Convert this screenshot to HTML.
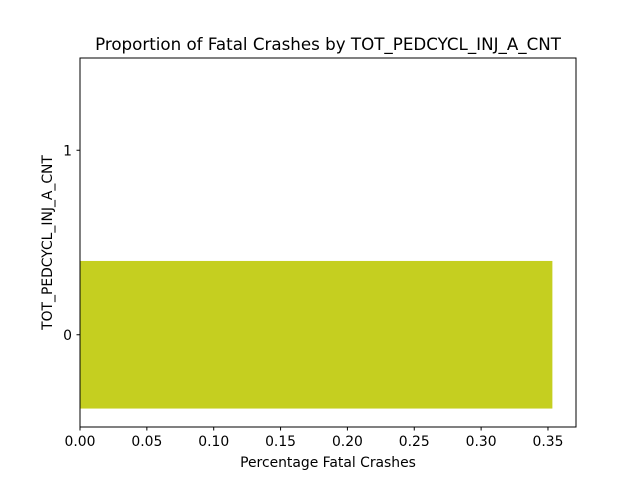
<!DOCTYPE html>
<html><head><meta charset="utf-8"><style>
body{margin:0;background:#fff;}
svg text{font-family:"DejaVu Sans","Liberation Sans",sans-serif;fill:#000;}
</style></head><body>
<svg width="640" height="480" viewBox="0 0 640 480">
<text x="328" y="50" font-size="16.7" text-anchor="middle">Proportion of Fatal Crashes by TOT_PEDCYCL_INJ_A_CNT</text>
<g id="bars"></g>
<rect x="80" y="58" width="496" height="369" fill="none" stroke="#000" stroke-width="1"/>
<g id="xticks"></g><g id="yticks"></g>
<text x="328" y="467" font-size="13.9" text-anchor="middle">Percentage Fatal Crashes</text>
<text transform="translate(52,242.5) rotate(-90)" font-size="13.9" text-anchor="middle">TOT_PEDCYCL_INJ_A_CNT</text>
</svg>
<script>
const categories=["0","1"];
const values=[0.3533,0];
const xTicks=[0,0.05,0.1,0.15,0.2,0.25,0.3,0.35];
const xTickLabels=["0.00","0.05","0.10","0.15","0.20","0.25","0.30","0.35"];
const ns="http://www.w3.org/2000/svg";
const L=80,R=576,T=58,B=427;
const xmax=Math.max(...values)*1.05;
const xs=v=>L+v/xmax*(R-L);
const ys=i=>B-(i+0.5)/categories.length*(B-T);
const bh=0.8*(B-T)/categories.length;
const bars=document.getElementById('bars');
values.forEach((v,i)=>{const r=document.createElementNS(ns,'rect');
r.setAttribute('x',xs(0));r.setAttribute('y',ys(i)-bh/2);r.setAttribute('width',xs(v)-xs(0));r.setAttribute('height',bh);r.setAttribute('fill','#c5cf20');


bars.appendChild(r);});
const xt=document.getElementById('xticks');
xTicks.forEach((t,i)=>{const x=xs(t);const l=document.createElementNS(ns,'line');
l.setAttribute('x1',x);l.setAttribute('x2',x);l.setAttribute('y1',B);l.setAttribute('y2',B+3.5);l.setAttribute('stroke','#000');


xt.appendChild(l);const tx=document.createElementNS(ns,'text');
tx.setAttribute('x',x);tx.setAttribute('y',B+19);tx.setAttribute('font-size','13.9');tx.setAttribute('text-anchor','middle');tx.textContent=xTickLabels[i];


xt.appendChild(tx);});
const yt=document.getElementById('yticks');
categories.forEach((c,i)=>{const y=ys(i);const l=document.createElementNS(ns,'line');
l.setAttribute('x1',L-3.5);l.setAttribute('x2',L);l.setAttribute('y1',y);l.setAttribute('y2',y);l.setAttribute('stroke','#000');


yt.appendChild(l);const tx=document.createElementNS(ns,'text');
tx.setAttribute('x',L-8);tx.setAttribute('y',y+5);tx.setAttribute('font-size','13.9');tx.setAttribute('text-anchor','end');tx.textContent=c;


yt.appendChild(tx);});
</script>
</body></html>
